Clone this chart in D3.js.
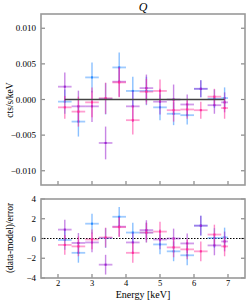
<!DOCTYPE html>
<html><head><meta charset="utf-8">
<script src="https://cdn.jsdelivr.net/npm/d3@7"></script>
<style>body{margin:0;background:#fff}svg{display:block}text{font-family:"Liberation Serif","Times New Roman",serif;fill:#000}</style>
</head><body>
<script>
const energy = [2.2,2.6,3.0,3.4,3.8,4.2,4.6,5.0,5.4,5.8,6.2,6.6,6.9];
const halfWidth = [0.2,0.2,0.2,0.2,0.2,0.2,0.2,0.2,0.2,0.2,0.2,0.2,0.1];
const blueVal = [-0.0003,-0.0031,0.0031,0.0001,0.0045,0.0012,0.0012,-0.0011,-0.0020,-0.0022,0.0015,0.0001,0.0002];
const blueErr = [0.0017,0.0021,0.0021,0.0022,0.0021,0.0020,0.0020,0.0018,0.0016,0.0013,0.0012,0.0013,0.0015];
const blueRes = [-0.15,-1.45,1.5,0.05,2.2,0.6,0.6,-0.6,-1.3,-1.7,1.3,0.05,0.1];
const purpleVal = [0.0018,-0.00096,-0.00096,-0.0061,0.0025,-0.00096,0.0016,-0.0003,0.0,-0.0007,0.0015,-0.0008,-0.0004];
const purpleErr = [0.0020,0.0022,0.0022,0.0023,0.0021,0.0022,0.0019,0.0018,0.0021,0.0014,0.0012,0.0012,0.0014];
const purpleRes = [0.9,-0.45,-0.4,-2.65,1.2,-0.4,0.85,-0.1,0.0,-0.5,1.3,-0.7,-0.3];
const pinkVal = [-0.0011,-0.0017,-0.0004,0.00017,0.0024,-0.0029,0.0011,0.0012,-0.0015,-0.0014,-0.0015,0.0004,-0.0012];
const pinkErr = [0.0016,0.0021,0.0021,0.0022,0.0021,0.0020,0.0018,0.0016,0.0016,0.0013,0.0012,0.0011,0.0015];
const pinkRes = [-0.65,-0.8,-0.1,0.1,1.15,-1.45,0.6,0.7,-0.9,-1.1,-1.3,0.4,-0.8];
const modelVal = [0,0,0,0,0,0,0,0,0,0,0,0,0];
const xTicks = [2,3,4,5,6,7];
const yTicksTop = [0.010,0.005,0.000,-0.005,-0.010];
const yTicksRes = [4,2,0,-2,-4];
const seriesColors = ["#2a8cff","#9a22d0","#ff2a9a"];

const W=249,H=301;
const svg=d3.select("body").append("svg").attr("width",W).attr("height",H);
const x=d3.scaleLinear().domain([1.5,7.5]).range([41,245]);
const yTop=d3.scaleLinear().domain([-0.012,0.012]).range([185,14]);
const yRes=d3.scaleLinear().domain([-4,4]).range([278,199]);
const fmt=d=>(d<0?"\u2212":"")+d3.format(".3f")(Math.abs(d));

function panel(y, yt, tickFmt, showXLabels){
  const g=svg.append("g");
  const [x0,x1]=x.range(); const [yb,ytp]=y.range();
  const tk=g.append("g").attr("stroke","#888").attr("stroke-width",1.2);
  xTicks.forEach(t=>{tk.append("line").attr("x1",x(t)).attr("x2",x(t)).attr("y1",yb).attr("y2",yb-4);});
  yt.forEach(t=>{
    tk.append("line").attr("x1",x0).attr("x2",x0+4).attr("y1",y(t)).attr("y2",y(t));
    tk.append("line").attr("x1",x1).attr("x2",x1-4).attr("y1",y(t)).attr("y2",y(t));
  });
  yt.forEach(t=>{
    g.append("text").attr("x",x0-5).attr("y",y(t)+3).attr("text-anchor","end").attr("font-size",9).text(tickFmt(t));
  });
  if(showXLabels){
    xTicks.forEach(t=>{g.append("text").attr("x",x(t)).attr("y",yb+8).attr("text-anchor","middle").attr("font-size",8.5).text(t);});
  }
  return g;
}

function drawFrame(y){
  const [x0,x1]=x.range(); const [yb,ytp]=y.range();
  svg.append("rect").attr("x",x0).attr("y",ytp).attr("width",x1-x0).attr("height",yb-ytp)
    .attr("fill","none").attr("stroke","#999").attr("stroke-width",1.6);
}

function drawSeries(y, vals, errs, color){
  const g=svg.append("g");
  energy.forEach((e,i)=>{
    g.append("line").attr("x1",x(e-halfWidth[i])).attr("x2",x(e+halfWidth[i])).attr("y1",y(vals[i])).attr("y2",y(vals[i]))
      .attr("stroke",color).attr("stroke-width",1.8).attr("stroke-opacity",0.45);
    g.append("line").attr("x1",x(e)).attr("x2",x(e)).attr("y1",y(vals[i]-errs[i])).attr("y2",y(vals[i]+errs[i]))
      .attr("stroke",color).attr("stroke-width",1.4).attr("stroke-opacity",0.55);
    g.append("rect").attr("x",x(e)-1).attr("y",y(vals[i])-1).attr("width",2).attr("height",2).attr("fill",color);
  });
}

panel(yTop, yTicksTop, fmt, false);
const allVals=[blueVal,purpleVal,pinkVal], allErr=[blueErr,purpleErr,pinkErr], allRes=[blueRes,purpleRes,pinkRes];
allVals.forEach((v,k)=>drawSeries(yTop,v,allErr[k],seriesColors[k]));
svg.append("path").datum(energy.map((e,i)=>[e,modelVal[i]]))
  .attr("d",d3.line().x(d=>x(d[0])).y(d=>yTop(d[1])))
  .attr("fill","none").attr("stroke","#444").attr("stroke-width",1.6);
drawFrame(yTop);

panel(yRes, yTicksRes, d=>(d<0?"\u2212":"")+Math.abs(d), true);
svg.append("line").attr("x1",x.range()[0]).attr("x2",x.range()[1]).attr("y1",yRes(0)).attr("y2",yRes(0))
  .attr("stroke","#000").attr("stroke-width",1).attr("stroke-dasharray","1.5,1.5");
allRes.forEach((r,k)=>drawSeries(yRes,r,r.map(()=>1),seriesColors[k]));
drawFrame(yRes);

svg.append("text").attr("x",143).attr("y",11).attr("text-anchor","middle").attr("font-size",12).attr("font-style","italic").text("Q");
svg.append("text").attr("transform","translate(13,100) rotate(-90)").attr("text-anchor","middle").attr("font-size",9.5).text("cts/s/keV");
svg.append("text").attr("transform","translate(13,238) rotate(-90)").attr("text-anchor","middle").attr("font-size",9.5).text("(data-model)/error");
svg.append("text").attr("x",143).attr("y",298).attr("text-anchor","middle").attr("font-size",10).text("Energy [keV]");
</script>
</body></html>
